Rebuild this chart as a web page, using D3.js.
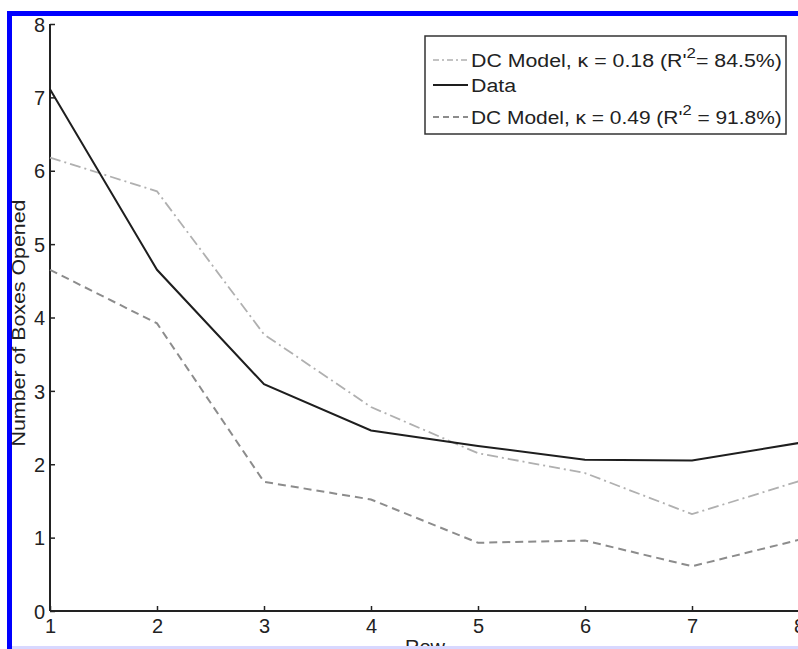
<!DOCTYPE html>
<html><head><meta charset="utf-8">
<script src="https://cdn.jsdelivr.net/npm/d3@7"></script>
<style>
html,body{margin:0;padding:0;background:#fff;}
svg{display:block;font-family:"Liberation Sans",Arial,sans-serif;}
</style></head>
<body>
<svg id="c" width="798" height="649"></svg>
<script>
const rows = [1,2,3,4,5,6,7,8];
const dataVals   = [7.11, 4.65, 3.09, 2.46, 2.25, 2.06, 2.05, 2.29];
const model018   = [6.18, 5.72, 3.77, 2.78, 2.15, 1.88, 1.32, 1.77];
const model049   = [4.65, 3.92, 1.76, 1.52, 0.93, 0.96, 0.61, 0.97];
const yTicks = [0,1,2,3,4,5,6,7,8];
const xTicks = [1,2,3,4,5,6,7,8];

const svg = d3.select("#c");
svg.append("rect").attr("x",0).attr("y",0).attr("width",798).attr("height",649).attr("fill","#fff");
svg.append("rect").attr("x",7).attr("y",11).attr("width",791).attr("height",5).attr("fill","#0000ff");
svg.append("rect").attr("x",7).attr("y",11).attr("width",5).attr("height",638).attr("fill","#0000ff");

const x = d3.scaleLinear().domain([1,8]).range([50,799]);
const y = d3.scaleLinear().domain([0,8]).range([611,24]);

const axisCol = "#222";
const ya = svg.append("g").attr("transform","translate(50,0)")
  .call(d3.axisRight(y).tickValues(yTicks).tickSize(5).tickFormat(d3.format("d")));
ya.select(".domain").attr("stroke",axisCol).attr("stroke-width",2).attr("d","M0,"+y(0)+"V"+y(8));
ya.selectAll(".tick line").attr("stroke",axisCol).attr("stroke-width",1.5);
ya.selectAll(".tick text").attr("x",-5).attr("text-anchor","end").attr("dy","0.36em")
  .attr("font-size",20).attr("fill","#222");

const xa = svg.append("g").attr("transform","translate(0,611)")
  .call(d3.axisTop(x).tickValues(xTicks).tickSize(5).tickFormat(d3.format("d")));
xa.select(".domain").attr("stroke",axisCol).attr("stroke-width",2).attr("d","M"+x(1)+",0H798");
xa.selectAll(".tick line").attr("stroke",axisCol).attr("stroke-width",1.5);
xa.selectAll(".tick text").attr("y",22).attr("dy","0").attr("font-size",20).attr("fill","#222");

const line = d3.line().x((d,i)=>x(rows[i])).y(d=>y(d));
svg.append("path").datum(model018).attr("d",line).attr("fill","none")
  .attr("stroke","#b0b0b0").attr("stroke-width",1.8).attr("stroke-dasharray","11,4,2,4");
svg.append("path").datum(model049).attr("d",line).attr("fill","none")
  .attr("stroke","#8c8c8c").attr("stroke-width",2).attr("stroke-dasharray","8,5");
svg.append("path").datum(dataVals).attr("d",line).attr("fill","none")
  .attr("stroke","#1e1e1e").attr("stroke-width",2);

// axis labels
const yl = svg.append("text").attr("text-anchor","middle")
  .attr("font-size",19).attr("fill","#222").text("Number of Boxes Opened");
const ylw = yl.node().getComputedTextLength();
yl.attr("transform","translate(25,323) rotate(-90) scale("+(247/ylw)+",1)");
svg.append("text").attr("x",425).attr("y",654).attr("text-anchor","middle")
  .attr("font-size",20).attr("fill","#222").text("Row");
svg.append("rect").attr("x",12).attr("y",646).attr("width",786).attr("height",3).attr("fill","#d8d8ff");

// legend
const lg = svg.append("g");
lg.append("rect").attr("x",425).attr("y",36).attr("width",361).attr("height",98)
  .attr("fill","#fff").attr("stroke","#333").attr("stroke-width",1.5);
const legItems = [
  {y:60, stroke:"#b0b0b0", dash:"6,3,2,3", w:1.5, target:311, parts:["DC Model, \u03ba = 0.18 (R'","2","= 84.5%)"]},
  {y:85, stroke:"#1e1e1e", dash:null, w:2, target:null, parts:["Data"]},
  {y:117, stroke:"#8c8c8c", dash:"6,4", w:2, target:311, parts:["DC Model, \u03ba = 0.49 (R'","2"," = 91.8%)"]}
];
let sx = 1;
legItems.forEach(it=>{
  lg.append("line").attr("x1",433).attr("x2",468).attr("y1",it.y).attr("y2",it.y)
    .attr("stroke",it.stroke).attr("stroke-width",it.w).attr("stroke-dasharray",it.dash);
  const t = lg.append("text").attr("x",0).attr("y",0).attr("font-size",19).attr("fill","#222");
  t.append("tspan").text(it.parts[0]);
  if(it.parts.length>1){
    t.append("tspan").attr("dy",-9).attr("font-size",15).text(it.parts[1]);
    t.append("tspan").attr("dy",9).text(it.parts[2]);
  }
  if(it.target){ sx = it.target / t.node().getBBox().width; }
  t.attr("transform","translate(471,"+(it.y+7)+") scale("+sx+",1)");
});
</script>
</body></html>
